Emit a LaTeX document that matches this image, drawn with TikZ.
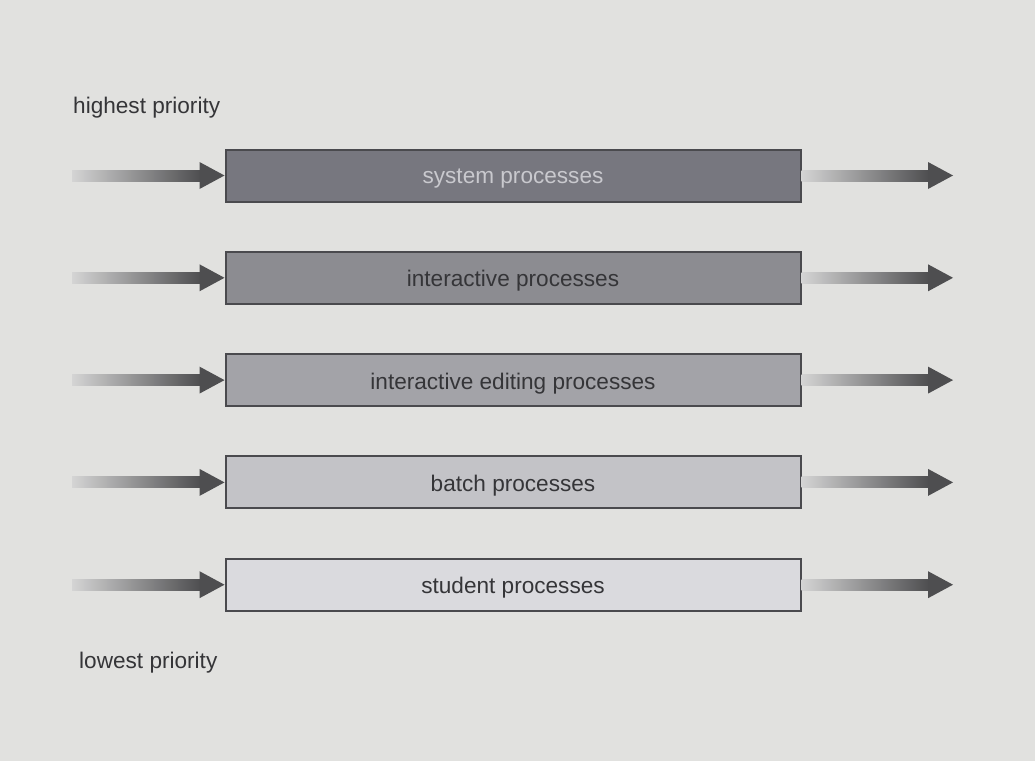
\documentclass[tikz,border=0pt]{standalone}
\usepackage{fontspec}
\setmainfont{Liberation Sans}
\usetikzlibrary{calc}
\definecolor{bg}{HTML}{E1E1DF}
\definecolor{edge}{HTML}{4A4A4E}
\definecolor{fillA}{HTML}{77777F}
\definecolor{fillB}{HTML}{8C8C91}
\definecolor{fillC}{HTML}{A3A3A8}
\definecolor{fillD}{HTML}{C3C3C7}
\definecolor{fillE}{HTML}{DADADE}
\definecolor{shaftL}{HTML}{D4D4D4}
\definecolor{shaftR}{HTML}{4E4E50}
\definecolor{inktext}{HTML}{353538}
\definecolor{lighttext}{HTML}{C9C9CE}
\tikzset{
  queue/.style={draw=edge, line width=2pt, minimum width=575pt, minimum height=52pt,
    inner sep=0pt, text depth=0pt, text=inktext, font=\fontsize{22.6}{27}\selectfont},
  prio/.style={text=inktext, font=\fontsize{22.6}{27}\selectfont, inner sep=0pt,
    text depth=0pt, anchor=west},
}
% queue caption, set a little below the box centre
\newcommand{\qtext}[1]{\raisebox{-2pt}{#1}}
% shaded arrow from #1 to #2 (horizontal, pointing right)
\newcommand{\shadedarrow}[2]{%
  \shade[left color=shaftL, right color=shaftR]
    ($(#1)+(0,-5.5)$) rectangle ($(#2)+(-24,5.5)$);
  \fill[shaftR] ($(#2)+(-25,-13.5)$) -- (#2) -- ($(#2)+(-25,13.5)$) -- cycle;
}
\begin{document}
\begin{tikzpicture}[x=1pt, y=-1pt]
  \fill[bg] (0,0) rectangle (1035,761);
  \useasboundingbox (0,0) rectangle (1035,761);

  \node[prio] (high) at (73,105) {highest priority};
  \node[prio] (low) at (79,660) {lowest priority};

  \node[queue, fill=fillA, text=lighttext] (q1) at (513,175.5) {\qtext{system processes}};
  \node[queue, fill=fillB] (q2) at (513,277.8) {\qtext{interactive processes}};
  \node[queue, fill=fillC] (q3) at (513,380.1) {\qtext{interactive editing processes}};
  \node[queue, fill=fillD] (q4) at (513,482.4) {\qtext{batch processes}};
  \node[queue, fill=fillE] (q5) at (513,584.7) {\qtext{student processes}};

  \foreach \i/\y in {1/175.5, 2/277.8, 3/380.1, 4/482.4, 5/584.7} {
    \coordinate (in\i) at (72,\y);
    \coordinate (out\i) at (953,\y);
    \shadedarrow{in\i}{q\i.west}
    \shadedarrow{q\i.east}{out\i}
  }
\end{tikzpicture}
\end{document}
